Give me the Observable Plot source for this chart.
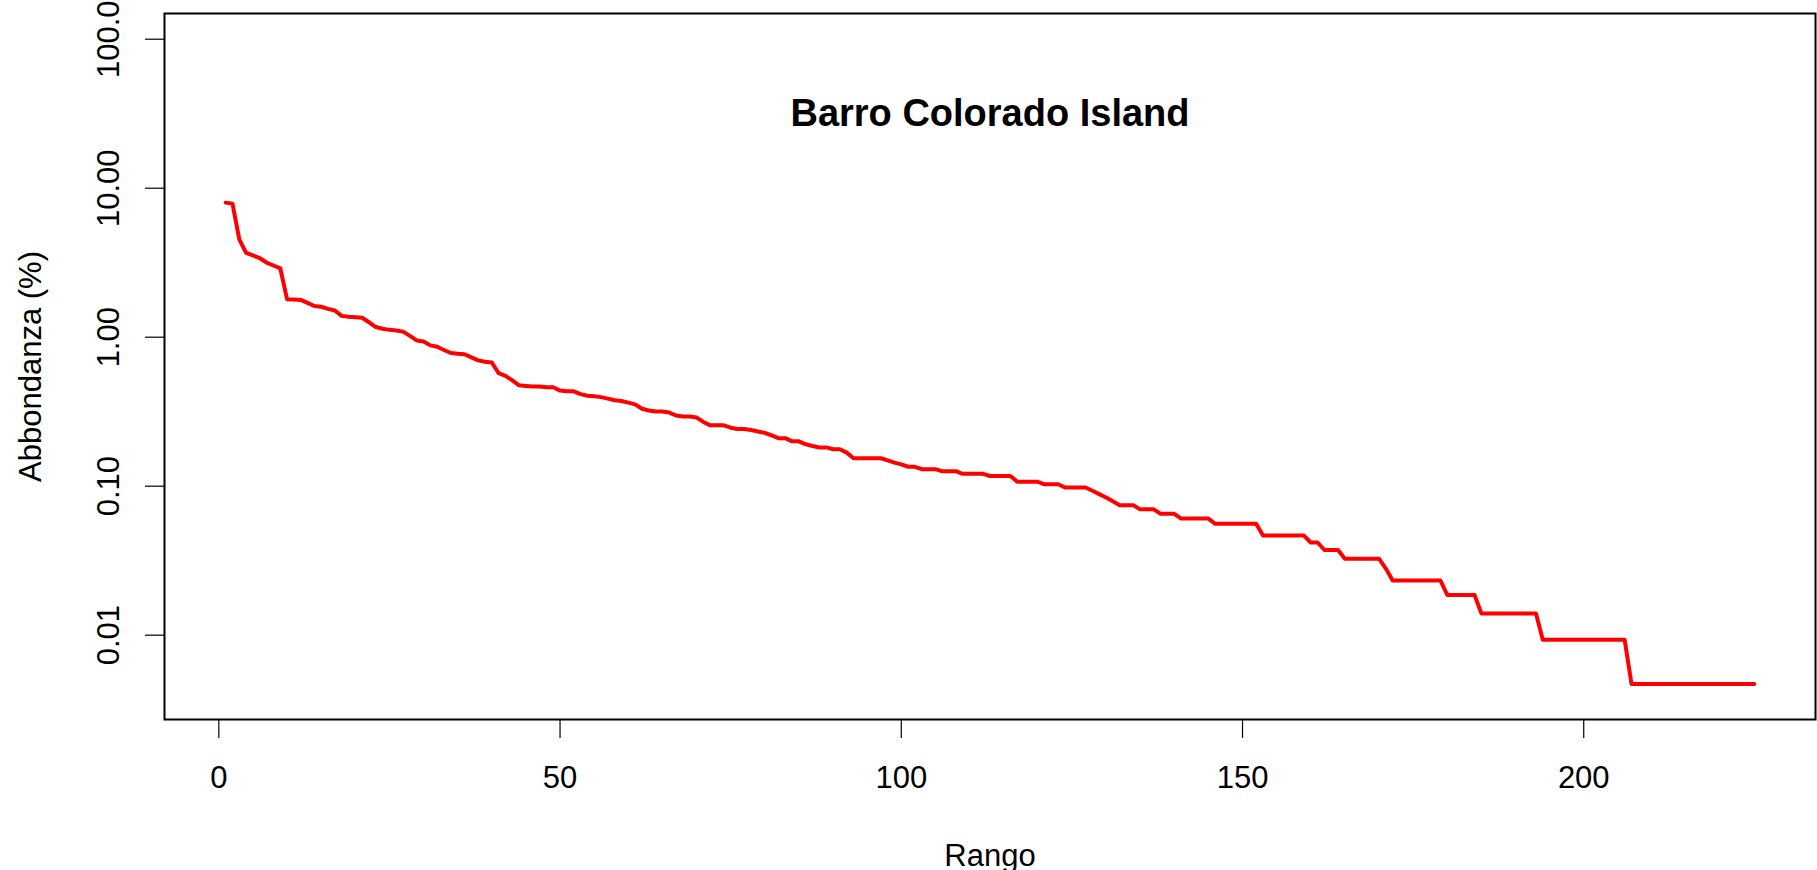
<!DOCTYPE html>
<html>
<head>
<meta charset="utf-8">
<script src="https://cdn.jsdelivr.net/npm/d3@7"></script>
<script src="https://cdn.jsdelivr.net/npm/@observablehq/plot@0.6"></script>
<style>
  html, body { margin: 0; padding: 0; background: #ffffff; }
  svg { display: block; }
</style>
</head>
<body>
<div id="chart"></div>
<script>
// Relative abundance (%) of each species, in rank order (rank = position + 1)
const abundance = [
  8.00, 7.88, 4.54, 3.68, 3.54, 3.39, 3.17, 3.03, 2.90, 1.80,
  1.79, 1.78, 1.70, 1.62, 1.60, 1.55, 1.51, 1.39, 1.37, 1.36,
  1.35, 1.26, 1.17, 1.14, 1.12, 1.11, 1.09, 1.02, 0.951, 0.937,
  0.881, 0.862, 0.820, 0.783, 0.774, 0.769, 0.732, 0.699, 0.685, 0.676,
  0.573, 0.550, 0.513, 0.475, 0.471, 0.466, 0.466, 0.461, 0.461, 0.438,
  0.433, 0.433, 0.415, 0.405, 0.401, 0.396, 0.387, 0.377, 0.373, 0.364,
  0.354, 0.331, 0.322, 0.317, 0.317, 0.312, 0.298, 0.294, 0.294, 0.289,
  0.270, 0.256, 0.256, 0.256, 0.247, 0.242, 0.242, 0.238, 0.233, 0.228,
  0.219, 0.210, 0.210, 0.200, 0.200, 0.191, 0.186, 0.182, 0.182, 0.177,
  0.177, 0.168, 0.154, 0.154, 0.154, 0.154, 0.154, 0.149, 0.144, 0.140,
  0.135, 0.135, 0.130, 0.130, 0.130, 0.126, 0.126, 0.126, 0.121, 0.121,
  0.121, 0.121, 0.117, 0.117, 0.117, 0.117, 0.107, 0.107, 0.107, 0.107,
  0.103, 0.103, 0.103, 0.0979, 0.0979, 0.0979, 0.0979, 0.0932, 0.0885, 0.0839,
  0.0792, 0.0746, 0.0746, 0.0746, 0.0699, 0.0699, 0.0699, 0.0652, 0.0652, 0.0652,
  0.0606, 0.0606, 0.0606, 0.0606, 0.0606, 0.0559, 0.0559, 0.0559, 0.0559, 0.0559,
  0.0559, 0.0559, 0.0466, 0.0466, 0.0466, 0.0466, 0.0466, 0.0466, 0.0466, 0.0419,
  0.0419, 0.0373, 0.0373, 0.0373, 0.0326, 0.0326, 0.0326, 0.0326, 0.0326, 0.0326,
  0.0280, 0.0233, 0.0233, 0.0233, 0.0233, 0.0233, 0.0233, 0.0233, 0.0233, 0.0186,
  0.0186, 0.0186, 0.0186, 0.0186, 0.0140, 0.0140, 0.0140, 0.0140, 0.0140, 0.0140,
  0.0140, 0.0140, 0.0140, 0.0093, 0.0093, 0.0093, 0.0093, 0.0093, 0.0093, 0.0093,
  0.0093, 0.0093, 0.0093, 0.0093, 0.0093, 0.0093, 0.0047, 0.0047, 0.0047, 0.0047,
  0.0047, 0.0047, 0.0047, 0.0047, 0.0047, 0.0047, 0.0047, 0.0047, 0.0047, 0.0047,
  0.0047, 0.0047, 0.0047, 0.0047, 0.0047
];

const xTicks = [0, 50, 100, 150, 200];
const xTickLabels = ["0", "50", "100", "150", "200"];
const yTicks = [0.01, 0.1, 1, 10, 100];
const yTickLabels = ["0.01", "0.10", "1.00", "10.00", "100.0"];

const chartTitle = "Barro Colorado Island";
const xLabel = "Rango";
const yLabel = "Abbondanza (%)";

const data = abundance.map((v, i) => ({rank: i + 1, pct: v}));

const chart = Plot.plot({
  width: 1817,
  height: 870,
  marginLeft: 164,
  marginRight: 2,
  marginTop: 13,
  marginBottom: 151,
  style: {
    fontFamily: "'Liberation Sans', Arial, Helvetica, sans-serif",
    fontSize: "31px",
    background: "#ffffff",
    color: "#000000",
    overflow: "visible"
  },
  x: {domain: [-7.96, 233.96], axis: null},
  y: {type: "log", domain: [Math.pow(10, -2.566), Math.pow(10, 2.1726)], axis: null},
  marks: [
    Plot.axisX(xTicks, {
      tickSize: 19, tickPadding: 27, fontSize: 31, strokeWidth: 1.2, label: null,
      tickFormat: (d) => xTickLabels[xTicks.indexOf(d)]
    }),
    Plot.axisY(yTicks, {
      tickSize: 19, tickPadding: 27, tickRotate: -90, fontSize: 31, strokeWidth: 1.2, label: null,
      tickFormat: (d) => yTickLabels[yTicks.indexOf(d)]
    }),
    Plot.lineY(data, {
      x: "rank", y: "pct", stroke: "#ff0000", strokeWidth: 4,
      strokeLinejoin: "round", strokeLinecap: "round"
    }),
    Plot.frame({stroke: "#000000", strokeWidth: 2}),
    Plot.text([chartTitle], {
      frameAnchor: "top", dy: 112, lineAnchor: "bottom", textAnchor: "middle",
      fontWeight: "bold", fontSize: 38, fill: "#000000"
    }),
    Plot.text([yLabel], {
      frameAnchor: "left", dx: -124, rotate: -90, lineAnchor: "bottom", textAnchor: "middle",
      fontSize: 31, fill: "#000000"
    }),
    Plot.text([xLabel], {
      frameAnchor: "bottom", dy: 146, lineAnchor: "bottom", textAnchor: "middle",
      fontSize: 31, fill: "#000000"
    })
  ]
});

document.getElementById("chart").appendChild(chart);
</script>
</body>
</html>
